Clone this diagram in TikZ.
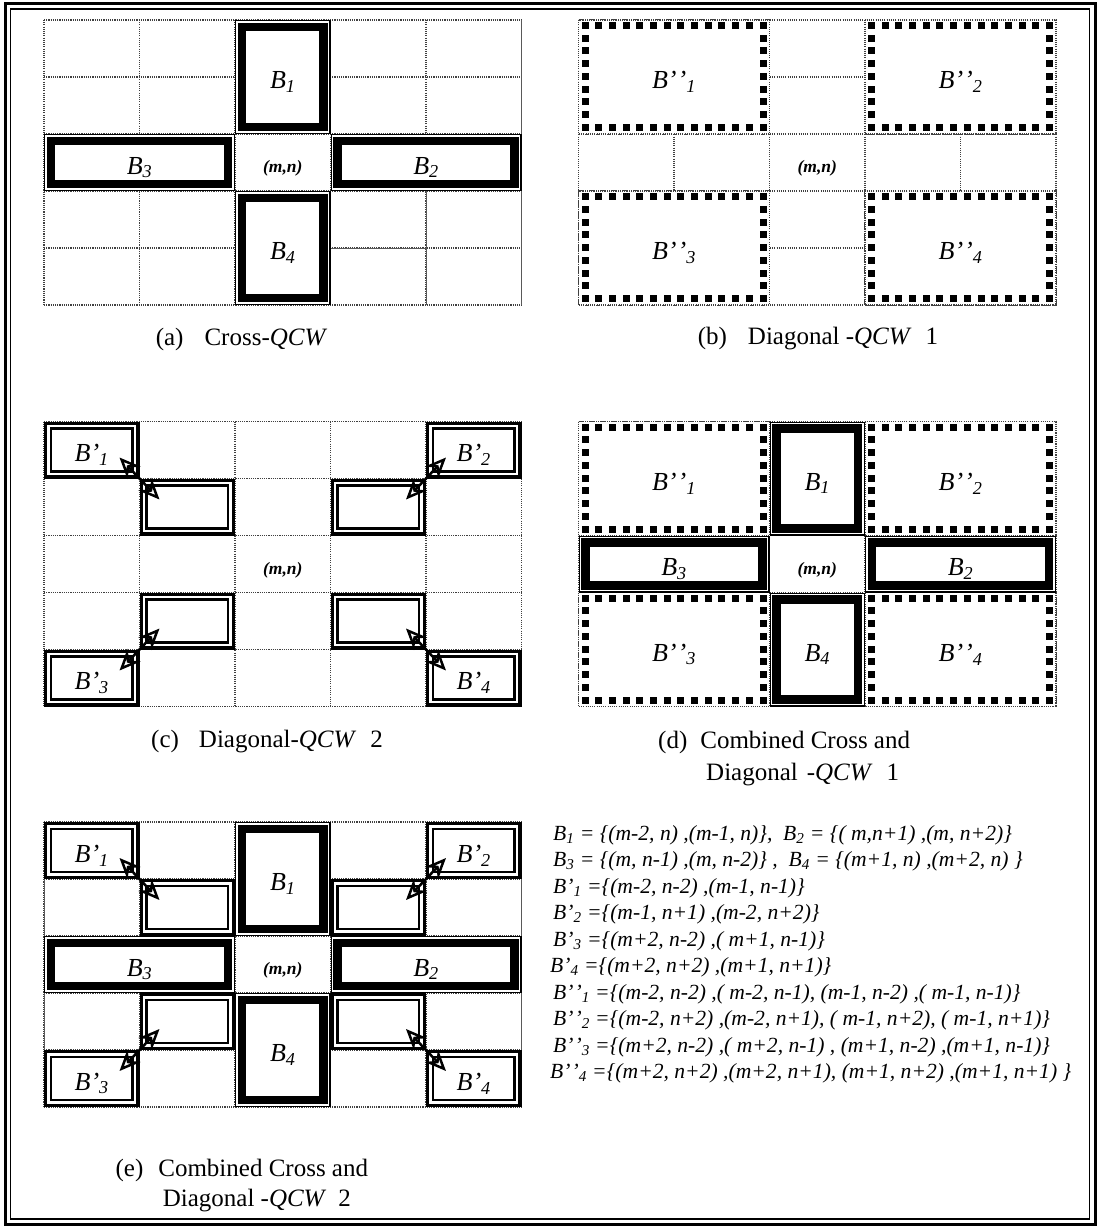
\documentclass[tikz,border=0pt]{standalone}
\usepackage{fontspec}
\setmainfont{Liberation Serif}
\usetikzlibrary{arrows.meta,calc}
\def\cw{95.5}
\def\chh{57}
\tikzset{
  gridline/.style={line width=1.1pt, black!75, dash pattern=on 1.1pt off 1.1pt},
  solidgrid/.style={line width=0.9pt, black!65},
  crossthin/.style={line width=1.1pt, black},
  crossthick/.style={line width=8.5pt, black},
  dbouter/.style={line width=3.2pt, black},
  dbinner/.style={line width=2.5pt, black},
  lbl/.style={font=\fontsize{26}{30}\selectfont\itshape, inner sep=0pt},
  mnlbl/.style={font=\fontsize{17.5}{20}\selectfont\bfseries\itshape, inner sep=0pt},
  captxt/.style={font=\fontsize{25}{30}\selectfont, inner sep=0pt, anchor=west},
  eqtxt/.style={font=\fontsize{21.6}{25}\selectfont\itshape, inner sep=0pt, anchor=west},
  dblarrow/.style={line width=2.5pt,
    {Stealth[fill=white,length=21pt,width=18pt,inset=7pt]}-{Stealth[fill=white,length=21pt,width=18pt,inset=7pt]}},
}
% grid of 5x5 cells with origin (#1,#2)
\newcommand\gridp[2]{%
  \foreach \i in {0,...,5} {
    \draw[gridline] ({#1+\i*\cw},#2) -- ({#1+\i*\cw},{#2+5*\chh});
    \draw[gridline] (#1,{#2+\i*\chh}) -- ({#1+5*\cw},{#2+\i*\chh});
  }}
% cross block: cells #3..#5 (excl) by #4..#6 (excl)
\newcommand\crossblk[6]{%
  \fill[white] ({#1+#3*\cw},{#2+#4*\chh}) rectangle ({#1+#5*\cw},{#2+#6*\chh});
  \draw[crossthin] ({#1+#3*\cw+0.55},{#2+#4*\chh+0.55}) rectangle ({#1+#5*\cw-0.55},{#2+#6*\chh-0.55});
  \draw[crossthick] ({#1+#3*\cw+7},{#2+#4*\chh+7}) rectangle ({#1+#5*\cw-7},{#2+#6*\chh-7});
}
% diagonal-2 single-cell double-line block
\newcommand\dblk[4]{%
  \fill[white] ({#1+#3*\cw},{#2+#4*\chh}) rectangle ({#1+(#3+1)*\cw},{#2+(#4+1)*\chh});
  \draw[dbouter] ({#1+#3*\cw+1.6},{#2+#4*\chh+1.6}) rectangle ({#1+(#3+1)*\cw-1.6},{#2+(#4+1)*\chh-1.6});
  \draw[dbinner] ({#1+#3*\cw+7},{#2+#4*\chh+7}) rectangle ({#1+(#3+1)*\cw-7},{#2+(#4+1)*\chh-7});
}
% diagonal-1 2x2 block of square dashes
\newcommand\sqblk[4]{%
  \fill[white] ({#1+#3*\cw},{#2+#4*\chh}) rectangle ({#1+(#3+2)*\cw},{#2+(#4+2)*\chh});
  \draw[gridline] ({#1+#3*\cw},{#2+#4*\chh}) rectangle ({#1+(#3+2)*\cw},{#2+(#4+2)*\chh});
  \coordinate (qA) at ({#1+#3*\cw+6.5},{#2+#4*\chh+5.5});
  \coordinate (qB) at ({#1+(#3+2)*\cw-6.5},{#2+#4*\chh+5.5});
  \coordinate (qC) at ({#1+(#3+2)*\cw-6.5},{#2+(#4+2)*\chh-6.5});
  \coordinate (qD) at ({#1+#3*\cw+6.5},{#2+(#4+2)*\chh-6.5});
  \foreach \k in {0,...,13} {
    \fill ($(qA)!\k/13!(qB)$) +(-3.5,-3.5) rectangle +(3.5,3.5);
    \fill ($(qD)!\k/13!(qC)$) +(-3.5,-3.5) rectangle +(3.5,3.5);
  }
  \foreach \k in {1,...,7} {
    \fill ($(qA)!\k/8!(qD)$) +(-3.5,-3.5) rectangle +(3.5,3.5);
    \fill ($(qB)!\k/8!(qC)$) +(-3.5,-3.5) rectangle +(3.5,3.5);
  }
}
% label in cell units
\newcommand\blabel[6]{\node[lbl] (#1) at ({#2+#4*\cw},{#3+#5*\chh+5}) {#6};}
\newcommand\mnlabel[3]{\node[mnlbl] (#1) at ({#2+2.5*\cw},{#3+2.5*\chh+6}) {(m,n)};}
% double arrow at corner: name, panel x0, column, corner y, direction (1 = NW-SE, -1 = NE-SW)
\newcommand\darrow[5]{%
  \coordinate (#1s) at ({#2+#3*\cw-20*(#5)},{(#4)-21});
  \coordinate (#1e) at ({#2+#3*\cw+20*(#5)},{(#4)+21});
  \draw[dblarrow] (#1s) -- (#1e);
}
\begin{document}
\begin{tikzpicture}[x=1pt,y=-1pt]
\useasboundingbox (0,0) rectangle (1098,1228);
\fill[white] (0,0) rectangle (1098,1228);
% outer double frame
\draw[line width=3pt] (5.5,3.5) rectangle (1095.5,1224.5);
\draw[line width=1.8pt] (10.5,9) rectangle (1089.5,1219);

% ---------- (a) Cross-QCW ----------
\gridp{44}{20}
\draw[solidgrid] ({44+4*\cw},{20+3*\chh}) -- ({44+4*\cw},{20+5*\chh});
\draw[solidgrid] ({44+3*\cw},{20+4*\chh}) -- ({44+4*\cw},{20+4*\chh});
\draw[solidgrid] ({44+5*\cw},20) -- ({44+5*\cw},{20+5*\chh});
\crossblk{44}{20}{2}{0}{3}{2}
\crossblk{44}{20}{0}{2}{2}{3}
\crossblk{44}{20}{3}{2}{5}{3}
\crossblk{44}{20}{2}{3}{3}{5}
\blabel{aB1}{44}{20}{2.5}{1}{B\textsubscript{1}}
\blabel{aB3}{44}{20}{1}{2.5}{B\textsubscript{3}}
\blabel{aB2}{44}{20}{4}{2.5}{B\textsubscript{2}}
\blabel{aB4}{44}{20}{2.5}{4}{B\textsubscript{4}}
\mnlabel{amn}{44}{20}
\node[captxt] (capa) at (155.6,339) {(a)\hspace{21pt}Cross-\textit{QCW}};

% ---------- (b) Diagonal-QCW 1 ----------
\gridp{578.5}{20}
\sqblk{578.5}{20}{0}{0}
\sqblk{578.5}{20}{3}{0}
\sqblk{578.5}{20}{0}{3}
\sqblk{578.5}{20}{3}{3}
\blabel{bB1}{578.5}{20}{1}{1}{B’\kern1pt’\textsubscript{1}}
\blabel{bB2}{578.5}{20}{4}{1}{B’\kern1pt’\textsubscript{2}}
\blabel{bB3}{578.5}{20}{1}{4}{B’\kern1pt’\textsubscript{3}}
\blabel{bB4}{578.5}{20}{4}{4}{B’\kern1pt’\textsubscript{4}}
\mnlabel{bmn}{578.5}{20}
\node[captxt] (capb) at (697.6,339) {(b)\hspace{21pt}Diagonal -\textit{QCW}\hspace{14pt}1};

% ---------- (c) Diagonal-QCW 2 ----------
\gridp{44}{421.5}
\dblk{44}{421.5}{0}{0}
\dblk{44}{421.5}{1}{1}
\dblk{44}{421.5}{3}{1}
\dblk{44}{421.5}{4}{0}
\dblk{44}{421.5}{1}{3}
\dblk{44}{421.5}{3}{3}
\dblk{44}{421.5}{0}{4}
\dblk{44}{421.5}{4}{4}
\darrow{ca1}{44}{1}{421.5+\chh}{1}
\darrow{ca2}{44}{4}{421.5+\chh}{-1}
\darrow{ca3}{44}{1}{421.5+4*\chh}{-1}
\darrow{ca4}{44}{4}{421.5+4*\chh}{1}
\blabel{cB1}{44}{421.5}{0.5}{0.5}{B’\textsubscript{1}}
\blabel{cB2}{44}{421.5}{4.5}{0.5}{B’\textsubscript{2}}
\blabel{cB3}{44}{421.5}{0.5}{4.5}{B’\textsubscript{3}}
\blabel{cB4}{44}{421.5}{4.5}{4.5}{B’\textsubscript{4}}
\mnlabel{cmn}{44}{421.5}
\node[captxt] (capc) at (151,742) {(c)\hspace{20pt}Diagonal-\textit{QCW}\hspace{14pt}2};

% ---------- (d) Combined 1 ----------
\gridp{578.5}{421.5}
\sqblk{578.5}{421.5}{0}{0}
\sqblk{578.5}{421.5}{3}{0}
\sqblk{578.5}{421.5}{0}{3}
\sqblk{578.5}{421.5}{3}{3}
\crossblk{578.5}{421.5}{2}{0}{3}{2}
\crossblk{578.5}{421.5}{0}{2}{2}{3}
\crossblk{578.5}{421.5}{3}{2}{5}{3}
\crossblk{578.5}{421.5}{2}{3}{3}{5}
\blabel{dBB1}{578.5}{421.5}{1}{1}{B’\kern1pt’\textsubscript{1}}
\blabel{dBB2}{578.5}{421.5}{4}{1}{B’\kern1pt’\textsubscript{2}}
\blabel{dBB3}{578.5}{421.5}{1}{4}{B’\kern1pt’\textsubscript{3}}
\blabel{dBB4}{578.5}{421.5}{4}{4}{B’\kern1pt’\textsubscript{4}}
\blabel{dB1}{578.5}{421.5}{2.5}{1}{B\textsubscript{1}}
\blabel{dB3}{578.5}{421.5}{1}{2.5}{B\textsubscript{3}}
\blabel{dB2}{578.5}{421.5}{4}{2.5}{B\textsubscript{2}}
\blabel{dB4}{578.5}{421.5}{2.5}{4}{B\textsubscript{4}}
\mnlabel{dmn}{578.5}{421.5}
\node[captxt] (capd1) at (658,742) {(d)\hspace{13pt}Combined Cross and};
\node[captxt] (capd2) at (706,775) {Diagonal\hspace{9pt}-\textit{QCW}\hspace{14pt}1};

% ---------- (e) Combined 2 ----------
\gridp{44}{822}
\draw[solidgrid] (44,822) -- (44,{822+5*\chh});
\draw[solidgrid] ({44+5*\cw},822) -- ({44+5*\cw},{822+5*\chh});
\crossblk{44}{822}{2}{0}{3}{2}
\crossblk{44}{822}{0}{2}{2}{3}
\crossblk{44}{822}{3}{2}{5}{3}
\crossblk{44}{822}{2}{3}{3}{5}
\dblk{44}{822}{0}{0}
\dblk{44}{822}{1}{1}
\dblk{44}{822}{3}{1}
\dblk{44}{822}{4}{0}
\dblk{44}{822}{1}{3}
\dblk{44}{822}{3}{3}
\dblk{44}{822}{0}{4}
\dblk{44}{822}{4}{4}
\darrow{ea1}{44}{1}{822+\chh}{1}
\darrow{ea2}{44}{4}{822+\chh}{-1}
\darrow{ea3}{44}{1}{822+4*\chh}{-1}
\darrow{ea4}{44}{4}{822+4*\chh}{1}
\blabel{eBp1}{44}{822}{0.5}{0.5}{B’\textsubscript{1}}
\blabel{eBp2}{44}{822}{4.5}{0.5}{B’\textsubscript{2}}
\blabel{eBp3}{44}{822}{0.5}{4.5}{B’\textsubscript{3}}
\blabel{eBp4}{44}{822}{4.5}{4.5}{B’\textsubscript{4}}
\blabel{eB1}{44}{822}{2.5}{1}{B\textsubscript{1}}
\blabel{eB3}{44}{822}{1}{2.5}{B\textsubscript{3}}
\blabel{eB2}{44}{822}{4}{2.5}{B\textsubscript{2}}
\blabel{eB4}{44}{822}{2.5}{4}{B\textsubscript{4}}
\mnlabel{emn}{44}{822}
\node[captxt] (cape1) at (115.4,1170) {(e)\hspace{15pt}Combined Cross and};
\node[captxt] (cape2) at (162.6,1201) {Diagonal -\textit{QCW}\hspace{12pt}2};

% ---------- equations ----------
\node[eqtxt] (eq1) at (553,835) {B\textsubscript{1} = \{(m-2, n) ,(m-1, n)\},\ \ B\textsubscript{2} = \{( m,n+1) ,(m, n+2)\}};
\node[eqtxt] (eq2) at (553,861.5) {B\textsubscript{3} = \{(m, n-1) ,(m, n-2)\} ,\ \ B\textsubscript{4} = \{(m+1, n) ,(m+2, n) \}};
\node[eqtxt] (eq3) at (553,888) {B’\textsubscript{1} =\{(m-2, n-2) ,(m-1, n-1)\}};
\node[eqtxt] (eq4) at (553,914.5) {B’\textsubscript{2} =\{(m-1, n+1) ,(m-2, n+2)\}};
\node[eqtxt] (eq5) at (553,941) {B’\textsubscript{3} =\{(m+2, n-2) ,( m+1, n-1)\}};
\node[eqtxt] (eq6) at (550,967.5) {B’\textsubscript{4} =\{(m+2, n+2) ,(m+1, n+1)\}};
\node[eqtxt] (eq7) at (553,994) {B’\kern1pt’\textsubscript{1} =\{(m-2, n-2) ,( m-2, n-1), (m-1, n-2) ,( m-1, n-1)\}};
\node[eqtxt] (eq8) at (553,1020.5) {B’\kern1pt’\textsubscript{2} =\{(m-2, n+2) ,(m-2, n+1), ( m-1, n+2), ( m-1, n+1)\}};
\node[eqtxt] (eq9) at (553,1047) {B’\kern1pt’\textsubscript{3} =\{(m+2, n-2) ,( m+2, n-1) , (m+1, n-2) ,(m+1, n-1)\}};
\node[eqtxt] (eq10) at (550,1073.5) {B’\kern1pt’\textsubscript{4} =\{(m+2, n+2) ,(m+2, n+1), (m+1, n+2) ,(m+1, n+1) \}};
\end{tikzpicture}
\end{document}
